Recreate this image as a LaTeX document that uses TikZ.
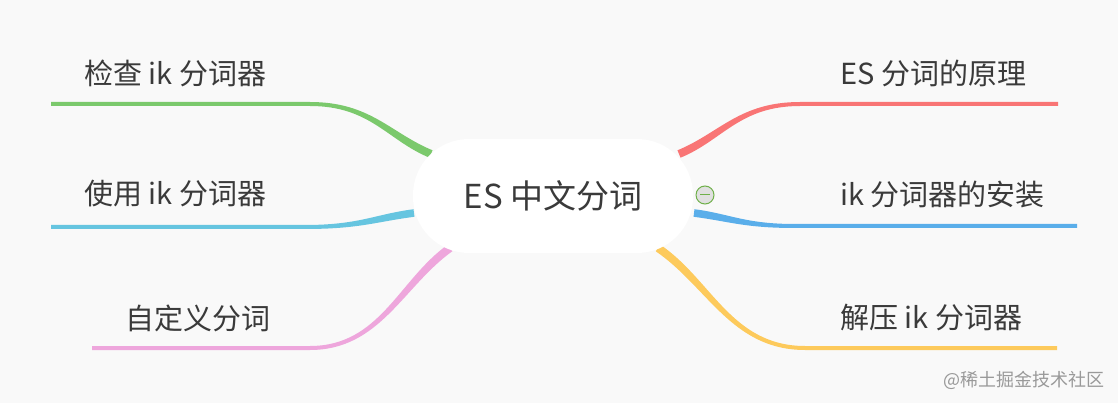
\documentclass[tikz,border=0pt]{standalone}
\usepackage{fontspec}
\setmainfont{Noto Sans CJK SC}
\usetikzlibrary{calc}
\definecolor{bg}{HTML}{F9F9F9}
\definecolor{txt}{HTML}{3A3A3A}
\definecolor{cgreen}{HTML}{7BC96C}
\definecolor{ccyan}{HTML}{66C5E0}
\definecolor{cpink}{HTML}{EEA6DC}
\definecolor{cred}{HTML}{F97575}
\definecolor{cblue}{HTML}{5AAEEA}
\definecolor{cyellow}{HTML}{FDCA5C}
\definecolor{cmark}{HTML}{6FB04A}
\tikzset{
  label/.style={text=txt, font=\fontsize{29}{32}\selectfont, inner sep=0pt, anchor=west},
  rootbox/.style={fill=white, rounded corners=56pt, minimum width=280pt, minimum height=114pt, text=txt, font=\fontsize{33}{36}\selectfont},
  collapsebox/.style={circle, draw=cmark, line width=1pt, fill=black!12, minimum size=18pt, inner sep=0pt},
  wm/.style={text=black!40, font=\fontsize{18}{20}\selectfont, inner sep=0pt}
}
% #1 prefix, #2 colour, #3 outer end A, #4 bend B, #5 inner end C, #6 half-width at C
\newcommand{\mybranch}[6]{%
  \coordinate (#1K1) at ($(#4)!0.5!(#4 -| #5)$);
  \coordinate (#1K2) at ($(#5)!0.35!(#4)$);
  \fill[#2] ($(#3)!2pt!90:(#4)$) -- ($(#4)!2pt!90:(#1K1)$)
    .. controls ($(#1K1)!2pt!-90:(#4)$) and ($(#1K2)!#6!90:(#5)$) .. ($(#5)!#6!-90:(#1K2)$)
    -- ($(#5)!#6!90:(#1K2)$)
    .. controls ($(#1K2)!#6!-90:(#5)$) and ($(#1K1)!2pt!90:(#4)$) .. ($(#4)!2pt!-90:(#1K1)$)
    -- ($(#3)!2pt!-90:(#4)$) -- cycle;
}
\begin{document}
\begin{tikzpicture}[x=1pt,y=-1pt]
\fill[bg] (0,0) rectangle (1118,403);
\useasboundingbox (0,0) rectangle (1118,403);
% branch coordinates
\coordinate (gA) at (51,104);  \coordinate (gB) at (310,104);  \coordinate (gC) at (431,154);
\coordinate (cA) at (51,227);  \coordinate (cB) at (305,227);  \coordinate (cC) at (414,213);
\coordinate (pA) at (92,348);  \coordinate (pB) at (310,348);  \coordinate (pC) at (450,248);
\coordinate (rA) at (1058,104); \coordinate (rB) at (800,104); \coordinate (rC) at (679,154);
\coordinate (bA) at (1077,226); \coordinate (bB) at (795,226); \coordinate (bC) at (694,213);
\coordinate (yA) at (1057,348); \coordinate (yB) at (805,348); \coordinate (yC) at (658,248);
\mybranch{g}{cgreen}{gA}{gB}{gC}{4pt}
\mybranch{c}{ccyan}{cA}{cB}{cC}{3.8pt}
\mybranch{p}{cpink}{pA}{pB}{pC}{4pt}
\mybranch{r}{cred}{rA}{rB}{rC}{4pt}
\mybranch{b}{cblue}{bA}{bB}{bC}{3.8pt}
\mybranch{y}{cyellow}{yA}{yB}{yC}{4pt}
% root
\node[rootbox] (root) at (553,196) {ES 中文分词};
% labels
\node[label] (l1) at (84,73) {检查 ik 分词器};
\node[label] (l2) at (84,194) {使用 ik 分词器};
\node[label] (l3) at (125,318) {自定义分词};
\node[label] (r1) at (840,73) {ES 分词的原理};
\node[label] (r2) at (840,194) {ik 分词器的安装};
\node[label] (r3) at (840,318) {解压 ik 分词器};
% collapse marker
\node[collapsebox] (collapse) at (705,195) {};
\draw[cmark, line width=1pt] ($(collapse.center)+(-5,0)$) -- ($(collapse.center)+(5,0)$);
% watermark
\node[wm, anchor=west] (mark) at (943,380) {@稀土掘金技术社区};
\end{tikzpicture}
\end{document}
